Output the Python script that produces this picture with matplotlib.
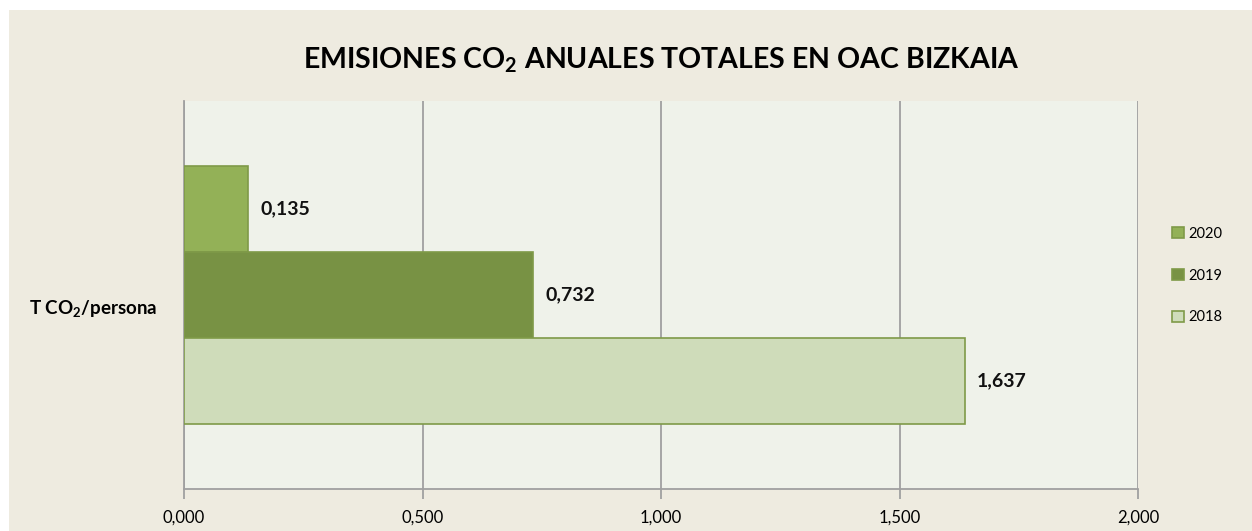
import matplotlib.pyplot as plt
from matplotlib.patches import Rectangle
import numpy as np

plt.rcParams['font.family'] = ['Lato', 'DejaVu Sans']
plt.rcParams['mathtext.fontset'] = 'custom'
plt.rcParams['mathtext.rm'] = 'Lato:bold'
plt.rcParams['mathtext.bf'] = 'Lato:bold'

years = ['2020', '2019', '2018']
values = [0.135, 0.732, 1.637]
colors = ['#93B157', '#789244', '#CFDCBA']
category = 'T CO$_2$/persona'
xticks = [0.0, 0.5, 1.0, 1.5, 2.0]

fig = plt.figure(figsize=(12.52, 5.31), dpi=100)
fig.patch.set_facecolor('white')
fig.patches.append(Rectangle((9 / 1252, 0), 1, 521 / 531, transform=fig.transFigure,
                             facecolor='#EEEBE0', edgecolor='none', zorder=-10))

ax = fig.add_axes([184 / 1252, 1 - 489 / 531, (1138 - 184) / 1252, (489 - 101) / 531])
ax.set_facecolor('#EFF2EA')

h = 0.222
offsets = [h, 0, -h]
for yr, v, c, off in zip(years, values, colors, offsets):
    ax.barh(off, v, height=h, color=c, edgecolor='#7F9A48', linewidth=1.2, label=yr, zorder=3)
    ax.text(v + 0.025, off, f'{v:.3f}'.replace('.', ','), va='center', ha='left',
            fontsize=14, fontweight='bold', color='#111111', zorder=4)

ax.set_xlim(0, 2.0)
ax.set_ylim(-0.5, 0.5)
ax.set_xticks(xticks)
ax.set_xticklabels([f'{t:.3f}'.replace('.', ',') for t in xticks], fontsize=12)
ax.set_yticks([])
ax.grid(axis='x', color='#A0A0A0', linewidth=1.3, zorder=0)
for s in ['top', 'right']:
    ax.spines[s].set_visible(False)
for s in ['left', 'bottom']:
    ax.spines[s].set_color('#A0A0A0')
    ax.spines[s].set_linewidth(1.3)
ax.tick_params(axis='x', length=7, color='#A0A0A0', width=1.3, pad=8)

fig.text(93 / 1252, 1 - 309 / 531, category, ha='center', va='center',
         fontsize=13.5, fontweight='bold')

fig.text(661 / 1252, 1 - 60 / 531, 'EMISIONES CO$_2$ ANUALES TOTALES EN OAC BIZKAIA',
         ha='center', va='center', fontsize=20.5, fontweight='bold')

leg = ax.legend(loc='center left', bbox_to_anchor=(1.022, 0.55), frameon=False,
                fontsize=10.5, handlelength=0.8, handleheight=0.8, handletextpad=0.3,
                labelspacing=1.9)

fig.savefig('out.png', dpi=100)
